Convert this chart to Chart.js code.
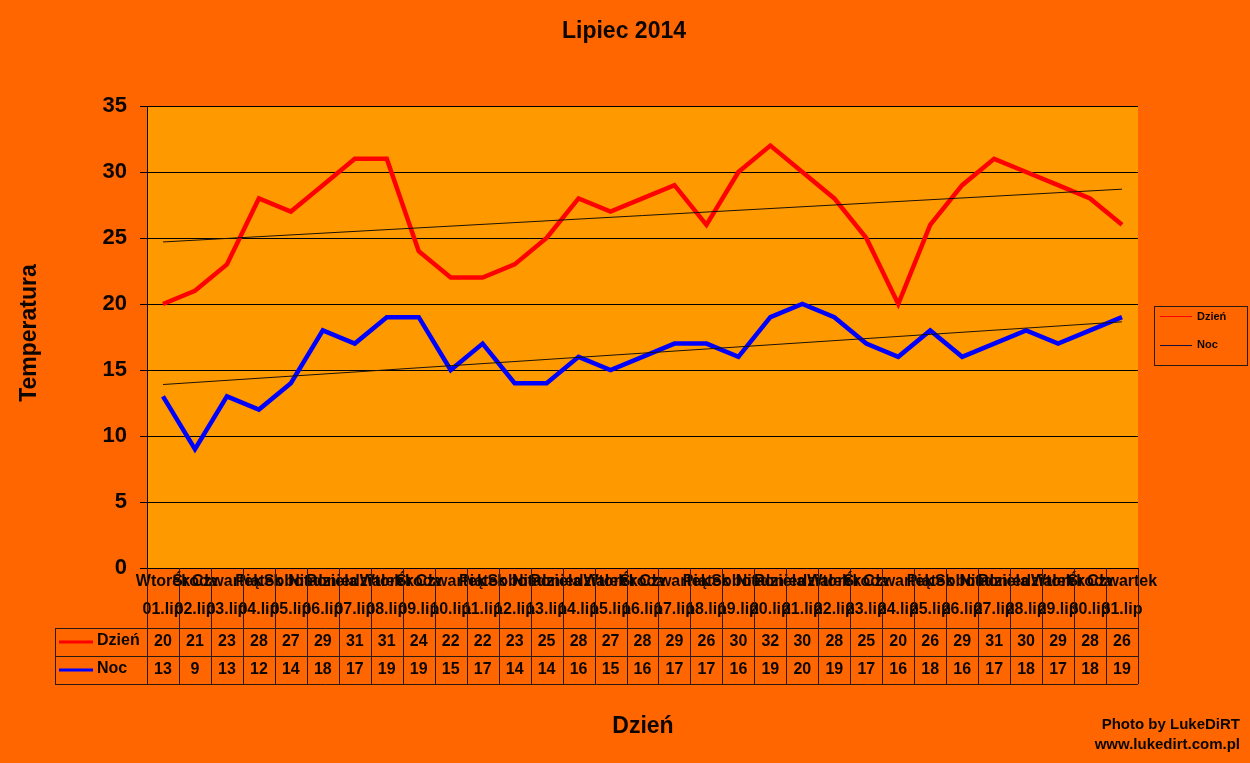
<!DOCTYPE html>
<html><head><meta charset="utf-8">
<script src="https://cdn.jsdelivr.net/npm/chart.js@4/dist/chart.umd.min.js"></script>
<style>html,body{margin:0;padding:0;background:#FF6600;}#wrap{width:1250px;height:763px;}</style>
</head><body><div id="wrap"><canvas id="c" width="1250" height="763"></canvas></div>
<script>
const dayNames = ["Wtorek","Środa","Czwartek","Piątek","Sobota","Niedziela","Poniedziałek","Wtorek","Środa","Czwartek","Piątek","Sobota","Niedziela","Poniedziałek","Wtorek","Środa","Czwartek","Piątek","Sobota","Niedziela","Poniedziałek","Wtorek","Środa","Czwartek","Piątek","Sobota","Niedziela","Poniedziałek","Wtorek","Środa","Czwartek"];
const dates = ["01.lip","02.lip","03.lip","04.lip","05.lip","06.lip","07.lip","08.lip","09.lip","10.lip","11.lip","12.lip","13.lip","14.lip","15.lip","16.lip","17.lip","18.lip","19.lip","20.lip","21.lip","22.lip","23.lip","24.lip","25.lip","26.lip","27.lip","28.lip","29.lip","30.lip","31.lip"];
const dzien = [20,21,23,28,27,29,31,31,24,22,22,23,25,28,27,28,29,26,30,32,30,28,25,20,26,29,31,30,29,28,26];
const noc = [13,9,13,12,14,18,17,19,19,15,17,14,14,16,15,16,17,17,16,19,20,19,17,16,18,16,17,18,17,18,19];
const dzienTrendEnds = [24.7, 28.7];
const nocTrendEnds = [13.9, 18.65];
const yTicks = [0,5,10,15,20,25,30,35];

const FONT = "'Liberation Sans', Arial, sans-serif";
const TXT = "#0d0600";
const LINE = "#2a1a10";

function trendSeries(ends, n){ const a = new Array(n).fill(null); a[0]=ends[0]; a[n-1]=ends[1]; return a; }

const labels = dayNames.map((d,i)=>[d, dates[i]]);

const deco = {
  id:'deco',
  beforeDraw(chart){
    const ctx = chart.ctx, a = chart.chartArea;
    ctx.save();
    ctx.fillStyle = '#FF6600';
    ctx.fillRect(0,0,chart.width,chart.height);
    ctx.fillStyle = '#FF9900';
    ctx.fillRect(a.left,a.top,a.right-a.left,a.bottom-a.top);
    ctx.restore();
  },
  afterDraw(chart){
    const ctx = chart.ctx, a = chart.chartArea, x = chart.scales.x;
    ctx.save();
    ctx.fillStyle = TXT;
    ctx.font = "bold 23px " + FONT;
    ctx.textAlign='center'; ctx.textBaseline='middle';
    ctx.fillText("Lipiec 2014", 624, 32);
    ctx.fillText("Dzień", 643, 727);
    ctx.save();
    ctx.translate(30, 333); ctx.rotate(-Math.PI/2);
    ctx.fillText("Temperatura", 0, 0);
    ctx.restore();
    ctx.font = "bold 15px " + FONT;
    ctx.textAlign='right';
    ctx.fillText("Photo by LukeDiRT", 1240, 725);
    ctx.fillText("www.lukedirt.com.pl", 1240, 745);
    const n = dzien.length;
    const cw = (a.right - a.left)/n;
    const r0 = 628, r1 = 656, r2 = 684, tl = 55;
    ctx.strokeStyle = LINE; ctx.lineWidth = 1;
    ctx.beginPath();
    [r0,r1,r2].forEach(y=>{ ctx.moveTo(tl, y+0.5); ctx.lineTo(a.right, y+0.5); });
    ctx.moveTo(tl+0.5, r0); ctx.lineTo(tl+0.5, r2);
    for(let i=0;i<=n;i++){
      const xx = Math.round(a.left + i*cw)+0.5;
      ctx.moveTo(xx, a.bottom); ctx.lineTo(xx, r2);
    }
    ctx.stroke();
    ctx.lineWidth = 3;
    ctx.strokeStyle = '#FF0000';
    ctx.beginPath(); ctx.moveTo(59, 642); ctx.lineTo(93, 642); ctx.stroke();
    ctx.strokeStyle = '#0000FF';
    ctx.beginPath(); ctx.moveTo(59, 670); ctx.lineTo(93, 670); ctx.stroke();
    ctx.font = "bold 16px " + FONT;
    ctx.fillStyle = TXT; ctx.textAlign='left';
    ctx.fillText("Dzień", 97, 641);
    ctx.fillText("Noc", 97, 669);
    ctx.textAlign='center';
    for(let i=0;i<n;i++){
      const cx = x.getPixelForValue(i);
      ctx.fillText(String(dzien[i]), cx, 642);
      ctx.fillText(String(noc[i]), cx, 670);
    }
    ctx.strokeStyle = LINE; ctx.lineWidth = 1;
    ctx.strokeRect(1154.5, 306.5, 93, 59);
    ctx.strokeStyle = '#FF0000';
    ctx.beginPath(); ctx.moveTo(1160, 316.5); ctx.lineTo(1192, 316.5); ctx.stroke();
    ctx.strokeStyle = '#1a1040';
    ctx.beginPath(); ctx.moveTo(1160, 345.5); ctx.lineTo(1192, 345.5); ctx.stroke();
    ctx.font = "bold 11px " + FONT;
    ctx.textAlign='left';
    ctx.fillText("Dzień", 1197, 317);
    ctx.fillText("Noc", 1197, 345);
    ctx.restore();
  }
};

new Chart(document.getElementById('c'), {
  type:'line',
  data:{
    labels: labels,
    datasets:[
      {label:'Dzień', data:dzien, borderColor:'#FF0000', borderWidth:4.5, pointRadius:0, tension:0, order:2},
      {label:'Noc', data:noc, borderColor:'#0000FF', borderWidth:4.5, pointRadius:0, tension:0, order:2},
      {label:'Trend Dzień', data:trendSeries(dzienTrendEnds, dzien.length), borderColor:'#1a1208', borderWidth:1, pointRadius:0, spanGaps:true, order:1},
      {label:'Trend Noc', data:trendSeries(nocTrendEnds, noc.length), borderColor:'#1a1208', borderWidth:1, pointRadius:0, spanGaps:true, order:1}
    ]
  },
  options:{
    responsive:false, animation:false, devicePixelRatio:1,
    layout:{padding:{left:0, right:112, top:106, bottom:75}},
    plugins:{legend:{display:false}, title:{display:false}, tooltip:{enabled:false}},
    scales:{
      x:{
        offset:true,
        grid:{display:false, drawTicks:false},
        border:{display:true, color:'#000', width:1},
        ticks:{autoSkip:false, maxRotation:0, minRotation:0, padding:0, color:TXT,
               font:{family:FONT, size:16, weight:'bold', lineHeight:'28px'}},
        afterFit(s){ s.height = 120; }
      },
      y:{
        min:0, max:35,
        afterBuildTicks(s){ s.ticks = yTicks.map(v=>({value:v})); },
        grid:{color:'#000', lineWidth:1, tickLength:7},
        border:{display:true, color:'#000', width:1},
        ticks:{padding:13, color:TXT, font:{family:FONT, size:22, weight:'bold'}},
        afterFit(s){ s.width = 147; }
      }
    }
  },
  plugins:[deco]
});
</script>
</body></html>
